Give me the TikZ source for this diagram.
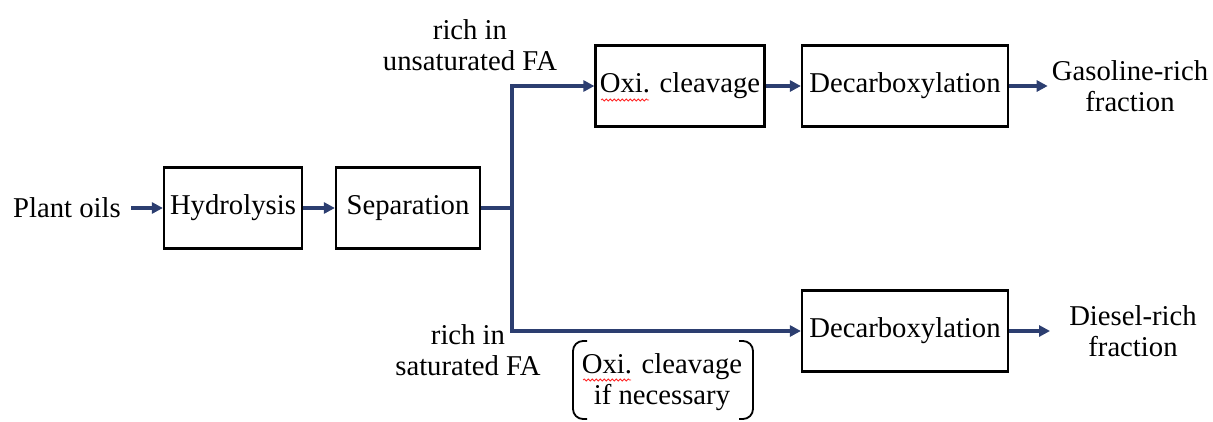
\documentclass[tikz,border=0pt]{standalone}
\usepackage{fontspec}
\setmainfont{Liberation Serif}
\usetikzlibrary{arrows.meta,decorations.pathmorphing}

\definecolor{flowblue}{RGB}{44,62,112}

\tikzset{
    stage/.style={draw=black, line width=2.2pt, minimum height=81pt, inner sep=0pt},
    flowline/.style={draw=flowblue, line width=3.4pt},
    flowarrow/.style={flowline, -{Triangle[length=11pt,width=11pt]}},
    note/.style={align=center, inner sep=4pt},
    squiggle/.style={draw=red!85, line width=0.8pt, decorate,
        decoration={snake, amplitude=1pt, segment length=4pt}}
}

\begin{document}
\begin{tikzpicture}[x=1pt, y=-1pt, font=\fontsize{28.7}{31}\selectfont]
            \useasboundingbox (0,0) rectangle (1213,421);
            % main chain
            \node[note] (oils) at (67,208) {Plant oils};
            \node[stage, minimum width=138pt] (hydro) at (233,208) {Hydrolysis};
            \node[stage, minimum width=144pt] (sep) at (408,208) {Separation};
            \coordinate (split) at (512,208);
            % upper route
            \node[stage, minimum width=169pt] (oxi) at (680,86) {Oxi. cleavage};
            \node[stage, minimum width=206pt] (decT) at (905,86) {Decarboxylation};
            \node[note] (gas) at (1130,86) {Gasoline-rich\\fraction};
            \node[note] (unsat) at (470,45) {rich in\\unsaturated FA};
            % lower route
            \node[stage, minimum width=206pt] (decB) at (905,331) {Decarboxylation};
            \node[note] (dies) at (1133,331) {Diesel-rich\\fraction};
            \node[note] (sat) at (468,350) {rich in\\saturated FA};
            \node[note] (opt) at (662,382) {Oxi. cleavage\\if necessary};
            % arrows
            \draw[flowarrow] ([xshift=6pt]oils.east) -- (hydro);
            \draw[flowarrow] (hydro) -- (sep);
            \draw[flowline] (sep) -- (split);
            \draw[flowarrow] (split) |- (oxi);
            \draw[flowarrow] (split) |- (decB);
            \draw[flowarrow] (oxi) -- (decT);
            \draw[flowarrow] (decT) -- (gas);
            \draw[flowarrow] (decB) -- ([xshift=-15pt]dies.west);
            % brackets round the optional step
            \draw[line width=1.8pt, rounded corners=10pt]
                (587,341) -- (573,341) -- (573,419) -- (587,419);
            \draw[line width=1.8pt, rounded corners=10pt]
                (739,341) -- (753,341) -- (753,419) -- (739,419);
            % spell-check marks under Oxi.
            \draw[squiggle] (601,100) -- (649,100);
            \draw[squiggle] (583,380) -- (631,380);
        \end{tikzpicture}
\end{document}
